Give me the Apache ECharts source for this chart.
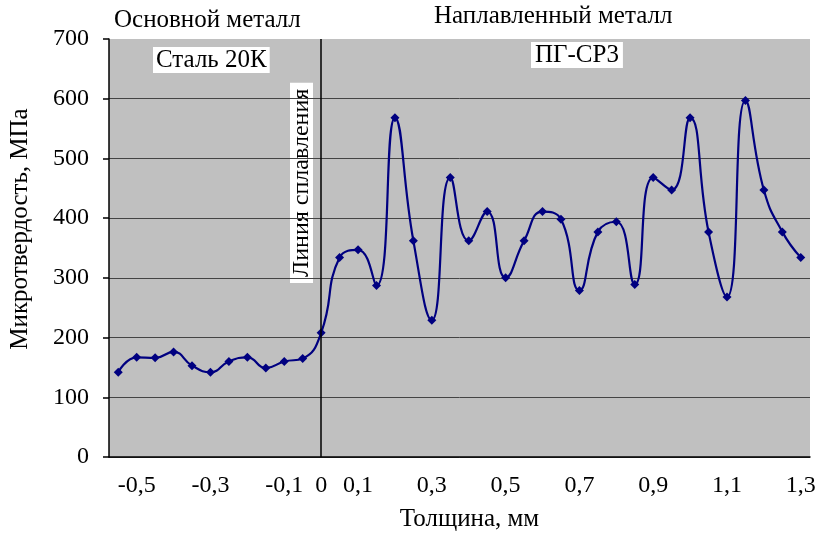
<!DOCTYPE html>
<html><head><meta charset="utf-8">
<script src="https://cdn.jsdelivr.net/npm/echarts@6/dist/echarts.min.js"></script>
<style>html,body{margin:0;padding:0;background:#fff}#c{width:822px;height:537px}</style>
</head><body><div id="c"></div>
<script>
const categories = ['-0,55','-0,5','-0,45','-0,4','-0,35','-0,3','-0,25','-0,2','-0,15','-0,1','-0,05','0',
  '0,05','0,1','0,15','0,2','0,25','0,3','0,35','0,4','0,45','0,5','0,55','0,6','0,65','0,7','0,75','0,8',
  '0,85','0,9','0,95','1','1,05','1,1','1,15','1,2','1,25','1,3'];
const hardness = [142,167,166,176,153,142,160,167,149,160,165,208,
  334,347,287,568,362,229,468,362,411,300,362,411,398,279,377,394,
  289,468,447,568,377,268,597,447,377,334];
const tickLabels = ['-0,5','-0,3','-0,1','0','0,1','0,3','0,5','0,7','0,9','1,1','1,3'];
const fusionAt = '0';

const serif = 'Liberation Serif, Times New Roman, serif';
const chart = echarts.init(document.getElementById('c'));
chart.setOption({
  animation: false,
  backgroundColor: '#fff',
  grid: { left: 108, right: 12, top: 39, bottom: 77, show: true, backgroundColor: '#c0c0c0', borderWidth: 0 },
  xAxis: {
    type: 'category', data: categories, boundaryGap: true,
    name: 'Толщина, мм', nameLocation: 'middle', nameGap: 50,
    nameTextStyle: { fontFamily: serif, fontSize: 25, color: '#000', padding: [0, 0, 0, 20] },
    axisLine: { lineStyle: { color: '#000', width: 1.5 } },
    axisTick: { interval: 0, length: 5, lineStyle: { color: '#000', width: 1.5 } },
    axisLabel: { interval: 0, margin: 17, fontFamily: serif, fontSize: 24, color: '#000',
      formatter: v => tickLabels.includes(v) ? v : '' },
    splitLine: { show: false }
  },
  yAxis: {
    type: 'value', min: 0, max: 700, interval: 100,
    name: 'Микротвердость, МПа', nameLocation: 'middle', nameGap: 76,
    nameTextStyle: { fontFamily: serif, fontSize: 25, color: '#000', padding: [0, 0, 0, 38] },
    axisLine: { show: true, lineStyle: { color: '#000', width: 1.5 } },
    axisTick: { show: true, length: 6, lineStyle: { color: '#000', width: 1.5 } },
    axisLabel: { margin: 20, fontFamily: serif, fontSize: 24, color: '#000' },
    splitLine: { showMaxLine: false, lineStyle: { color: '#444', width: 1 } }
  },
  series: [{
    type: 'line', data: hardness, smooth: 0.5,
    symbol: 'diamond', symbolSize: 9,
    lineStyle: { color: '#000080', width: 2.2 },
    itemStyle: { color: '#000080' },
    markLine: {
      silent: true, symbol: 'none', label: { show: false },
      lineStyle: { color: '#000', width: 1.5, type: 'solid' },
      data: [{ xAxis: fusionAt }]
    }
  }],
  graphic: [
    { type: 'text', left: 114, top: 8, style: { text: 'Основной металл', font: '25px ' + serif, fill: '#000' } },
    { type: 'text', left: 434, top: 4, style: { text: 'Наплавленный металл', font: '25px ' + serif, fill: '#000' } },
    { type: 'text', left: 153, top: 47, style: { text: 'Сталь 20К', font: '25px ' + serif, fill: '#000', backgroundColor: '#fff', padding: [1, 3, 0, 3] } },
    { type: 'text', left: 531, top: 42, style: { text: 'ПГ-СР3', font: '25px ' + serif, fill: '#000', backgroundColor: '#fff', padding: [1, 4, 0, 4] } },
    { type: 'text', x: 290, y: 283, rotation: Math.PI / 2, style: { text: 'Линия сплавления', font: '24px ' + serif, lineHeight: 23, fill: '#000', backgroundColor: '#fff', padding: [0, 6, 0, 6] } }
  ]
});
</script></body></html>
